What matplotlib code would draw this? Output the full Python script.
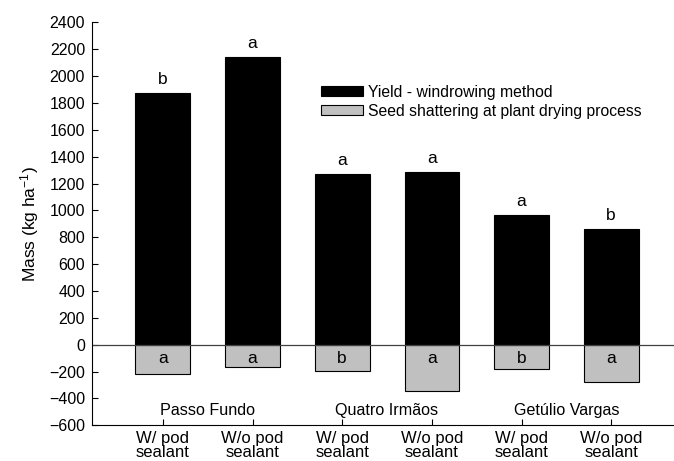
import matplotlib.pyplot as plt
from matplotlib.patches import Patch

plt.rcParams['font.family'] = ['Liberation Sans', 'DejaVu Sans']
plt.rcParams['mathtext.fontset'] = 'custom'
plt.rcParams['mathtext.rm'] = 'Liberation Sans'
plt.rcParams['mathtext.it'] = 'Liberation Sans'

treatments = ['W/ pod\nsealant', 'W/o pod\nsealant'] * 3
locations = ['Passo Fundo', 'Quatro Irmãos', 'Getúlio Vargas']
yield_vals = [1875, 2145, 1272, 1285, 966, 862]
shatter_vals = [-221, -168, -198, -343, -183, -276]
yield_letters = ['b', 'a', 'a', 'a', 'a', 'b']
shatter_letters = ['a', 'a', 'b', 'a', 'b', 'a']

fig = plt.figure(figsize=(6.74, 4.61), dpi=100)
ax = fig.add_axes([0.1365, 0.0774, 0.8635, 0.8742])

x = list(range(len(yield_vals)))
ax.bar(x, yield_vals, width=0.61, color='black', edgecolor='black', linewidth=0.8)
ax.bar(x, shatter_vals, width=0.61, color='#c0c0c0', edgecolor='black', linewidth=0.8)
ax.axhline(0, color='#404040', linewidth=0.9)

for i in x:
    ax.text(i, yield_vals[i] + 45, yield_letters[i], ha='center', va='bottom', fontsize=12.5)
    ax.text(i, -100, shatter_letters[i], ha='center', va='center', fontsize=12.5)

for j, loc in enumerate(locations):
    ax.text(2 * j + 0.5, -486, loc, ha='center', va='center', fontsize=11.6)

ax.set_xlim(-0.79, 5.70)
ax.set_ylim(-600, 2400)
ax.set_yticks(range(-600, 2401, 200))
ax.set_xticks(x)
ax.set_xticklabels(treatments, fontsize=12, linespacing=0.95)
ax.tick_params(axis='y', labelsize=11.5, direction='in', length=4, pad=5)
ax.tick_params(axis='x', direction='in', length=4, pad=4)
ax.spines['top'].set_visible(False)
ax.spines['right'].set_visible(False)
ax.set_ylabel('Mass (kg ha$^{\\mathrm{-1}}$)', fontsize=12.5, labelpad=6)

handles = [Patch(facecolor='black', edgecolor='black', linewidth=0.8),
           Patch(facecolor='#c0c0c0', edgecolor='black', linewidth=0.8)]
fig.legend(handles, ['Yield - windrowing method', 'Seed shattering at plant drying process'],
           loc='upper left', bbox_to_anchor=(0.467, 0.83), frameon=False, fontsize=11.3,
           handlelength=2.7, handleheight=0.55, handletextpad=0.3, labelspacing=0.25,
           borderaxespad=0)

fig.savefig('out.png', dpi=100)
